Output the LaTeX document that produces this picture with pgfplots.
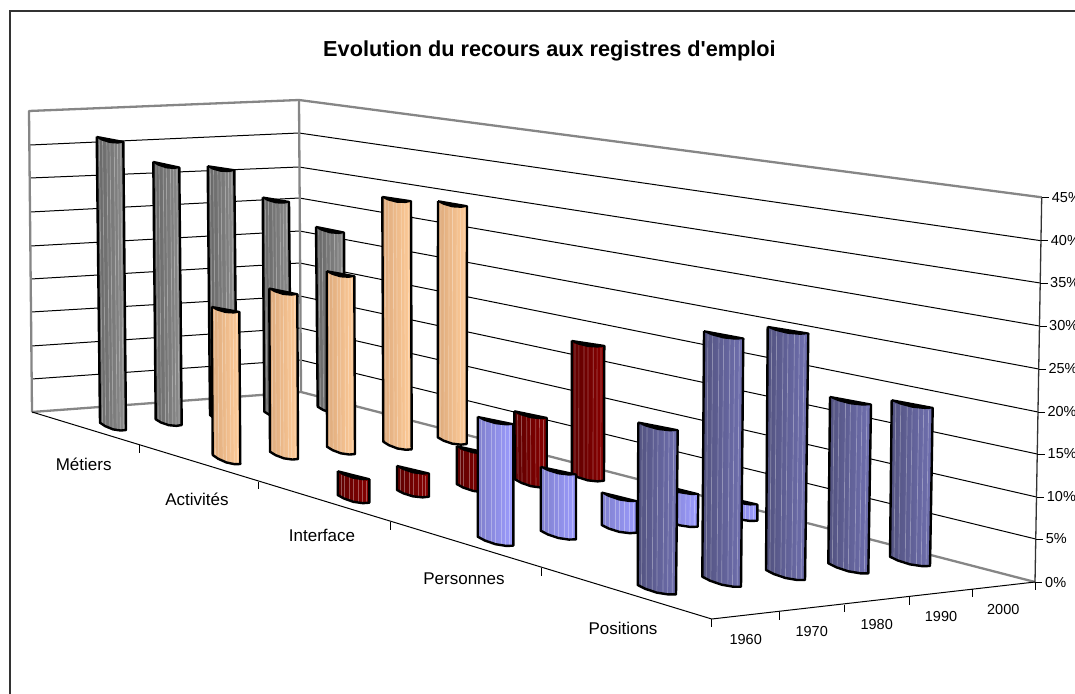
\documentclass[border=0pt]{standalone}
\usepackage{pgfplots}
\pgfplotsset{compat=1.18}
\usepackage{fontspec}
\setmainfont{Liberation Sans}
\newfontfamily\plainsans{Liberation Sans}
\definecolor{wall}{HTML}{868686}
\definecolor{grL}{HTML}{666666}\definecolor{grR}{HTML}{8C8C8C}
\definecolor{orL}{HTML}{DDAA7C}\definecolor{orR}{HTML}{FFCC99}
\definecolor{reL}{HTML}{5E0000}\definecolor{reR}{HTML}{880000}
\definecolor{lbL}{HTML}{8080CC}\definecolor{lbR}{HTML}{9C9CFF}
\definecolor{dbL}{HTML}{52527F}\definecolor{dbR}{HTML}{7070B0}
\tikzset{
 grb/.style={left color=grL,right color=grR},
 orb/.style={left color=orL,right color=orR},
 reb/.style={left color=reL,right color=reR},
 lbb/.style={left color=lbL,right color=lbR},
 dbb/.style={left color=dbL,right color=dbR},
 tk/.style={font=\fontsize{14.5}{16}\selectfont},
 ct/.style={font=\fontsize{17}{19}\selectfont},
 pc/.style={font=\fontsize{14.5}{16}\selectfont,anchor=west,inner sep=0pt},
}
% x1 y1 (top left) x2 y2 (top right) x3 y3 (bottom left) x4 y4 (bottom right) style
\newcommand{\onebar}[9]{%
 \def\xa{#1}\def\ya{#2}\def\xb{#3}\def\yb{#4}\def\xc{#5}\def\yc{#6}\def\xd{#7}\def\yd{#8}%
 \pgfmathsetmacro\ta{\xa+.2*(\xb-\xa)}\pgfmathsetmacro\tay{\ya+.2*(\yb-\ya)+2.0}%
 \pgfmathsetmacro\tb{\xa+.5*(\xb-\xa)}\pgfmathsetmacro\tby{\ya+.5*(\yb-\ya)+3.0}%
 \pgfmathsetmacro\tc{\xa+.8*(\xb-\xa)}\pgfmathsetmacro\tcy{\ya+.8*(\yb-\ya)+2.0}%
 \pgfmathsetmacro\ba{\xc+.2*(\xd-\xc)}\pgfmathsetmacro\bay{\yc+.2*(\yd-\yc)+2.0}%
 \pgfmathsetmacro\bb{\xc+.5*(\xd-\xc)}\pgfmathsetmacro\bby{\yc+.5*(\yd-\yc)+3.0}%
 \pgfmathsetmacro\bc{\xc+.8*(\xd-\xc)}\pgfmathsetmacro\bcy{\yc+.8*(\yd-\yc)+2.0}%
 \addplot[draw=none,#9] coordinates {(\xa,\ya) (\ta,\tay) (\tb,\tby) (\tc,\tcy) (\xb,\yb) (\xd,\yd) (\bc,\bcy) (\bb,\bby) (\ba,\bay) (\xc,\yc) (\xa,\ya)};
 \pgfplotsforeachungrouped \f in {.1,.22,.38,.5,.66,.78,.9}{%
  \pgfmathsetmacro\sx{\xa+\f*(\xb-\xa)}\pgfmathsetmacro\sy{\ya+\f*(\yb-\ya)+3}%
  \pgfmathsetmacro\ex{\xc+\f*(\xd-\xc)}\pgfmathsetmacro\ey{\yc+\f*(\yd-\yc)+2}%
  \addplot[draw=white,draw opacity=.32,line width=.7pt] coordinates {(\sx,\sy) (\ex,\ey)};
 }%
 \addplot[draw=black,line width=2.4pt,line join=round] coordinates {(\xb,\yb) (\xd,\yd) (\bc,\bcy) (\bb,\bby) (\ba,\bay) (\xc,\yc) (\xa,\ya)};
 \addplot[draw=black,fill=black,line width=1.8pt,line join=round] coordinates {(\xa,\ya) (\ta,\tay) (\tb,\tby) (\tc,\tcy) (\xb,\yb) (\xa,\ya)};
}
\begin{document}
\begin{tikzpicture}
\clip (0,0) rectangle (1075pt,693pt);
\begin{axis}[at={(0,0)},anchor=south west,width=1075pt,height=693pt,scale only axis,
 axis lines=none,xmin=0,xmax=1075,ymin=0,ymax=693,y dir=reverse,clip=false,no markers,
 every axis plot/.append style={forget plot}]
% chart frame
\addplot[draw=black!80,line width=1.4pt] coordinates {(10,700) (10,11) (1085,11)};
% gridlines: left wall, back corner, right side
\addplot[black,line width=1pt] coordinates {(30,145) (299,133) (1040.9,240.7)};
\addplot[black,line width=1pt] coordinates {(30,178) (299,167) (1040.2,283)};
\addplot[black,line width=1pt] coordinates {(30.3,212) (299.4,198) (1039.5,326)};
\addplot[black,line width=1pt] coordinates {(30.5,246) (299.6,231) (1038.8,369)};
\addplot[black,line width=1pt] coordinates {(30.8,279) (299.8,263) (1038,412)};
\addplot[black,line width=1pt] coordinates {(31,312) (300,296) (1037.2,454)};
\addplot[black,line width=1pt] coordinates {(31.3,346) (300.4,328) (1036.5,497)};
\addplot[black,line width=1pt] coordinates {(31.6,379) (300.7,360) (1035.7,539)};
% walls
\addplot[draw=wall,line width=2.3pt,line join=round] coordinates {(32,412) (29,111) (299,100) (1041.7,197.3)};
\addplot[draw=wall,line width=2.3pt] coordinates {(299,100) (301,392)};
\addplot[draw=wall,line width=2.3pt,line join=round] coordinates {(32,412) (301,392) (1035,582)};
% floor and axes
\addplot[black,line width=1pt] coordinates {(32,412) (711.7,619) (1035,582)};
\addplot[draw=black!80,line width=1.3pt] coordinates {(1041.7,197.3) (1035,582)};
% category ticks
\addplot[black,line width=.8pt] coordinates {(139,445) (139,453)};
\addplot[black,line width=.8pt] coordinates {(258,482) (258,489)};
\addplot[black,line width=.8pt] coordinates {(390.7,522) (390.7,530)};
\addplot[black,line width=.8pt] coordinates {(541.7,568) (541.7,576)};
\addplot[black,line width=.8pt] coordinates {(711.7,619) (711.7,627)};
% year ticks
\addplot[black,line width=.8pt] coordinates {(779,612) (779,619.5)};
\addplot[black,line width=.8pt] coordinates {(844,604.5) (844,612)};
\addplot[black,line width=.8pt] coordinates {(909,597) (909,604.5)};
\addplot[black,line width=.8pt] coordinates {(972.7,589) (972.7,597)};
\addplot[black,line width=.8pt] coordinates {(1035,582) (1035,590)};
% value ticks
\addplot[black,line width=.8pt] coordinates {(1041.7,197.3) (1049,197.3)};
\addplot[black,line width=.8pt] coordinates {(1040.9,240.7) (1048,240.7)};
\addplot[black,line width=.8pt] coordinates {(1040.2,283) (1047.5,283)};
\addplot[black,line width=.8pt] coordinates {(1039.5,326) (1047,326)};
\addplot[black,line width=.8pt] coordinates {(1038.8,369) (1046,369)};
\addplot[black,line width=.8pt] coordinates {(1038,412) (1045,412)};
\addplot[black,line width=.8pt] coordinates {(1037.2,454) (1045,454)};
\addplot[black,line width=.8pt] coordinates {(1036.5,497) (1044,497)};
\addplot[black,line width=.8pt] coordinates {(1035.7,539) (1043,539)};
\addplot[black,line width=.8pt] coordinates {(1035,582) (1042,582)};
% Metiers
\onebar{96.7}{136.7}{123.3}{141.7}{100}{422.7}{126}{430}{grb}
\onebar{153.3}{161.7}{179.3}{167.3}{155.7}{419.3}{181.7}{425}{grb}
\onebar{207.7}{166}{234.3}{170}{210}{415}{236.7}{423}{grb}
\onebar{262.7}{197.3}{289}{201.7}{264.3}{411.7}{291}{418}{grb}
\onebar{316}{226.7}{344}{232.3}{317.7}{406.7}{345}{413}{grb}
% Activites
\onebar{211.7}{306.7}{239.3}{311.7}{212.7}{455}{240.3}{464}{orb}
\onebar{269.3}{288.3}{297.3}{294}{270}{451.7}{298}{459}{orb}
\onebar{326.7}{271}{354.3}{276}{327}{446.7}{355}{454}{orb}
\onebar{382.3}{196.7}{411}{201}{383.3}{441.7}{411.7}{449.3}{orb}
\onebar{438}{201}{467}{206}{437.7}{437.3}{466.7}{444}{orb}
% Interface
\onebar{337.7}{471}{369.3}{479}{337.7}{495}{369.3}{502.7}{reb}
\onebar{397}{465.7}{429}{473.3}{397}{490}{429}{496.7}{reb}
\onebar{456.7}{446}{489}{453}{456.7}{484}{489}{491.7}{reb}
\onebar{514.3}{411}{546.7}{417.7}{515}{479.3}{546.7}{487}{reb}
\onebar{571.7}{340.7}{604.3}{345.7}{571.7}{474}{604}{480.7}{reb}
% Personnes
\onebar{477.7}{416.7}{513.3}{424}{477.7}{536.7}{513.3}{545.7}{lbb}
\onebar{540.7}{466.7}{576}{474.3}{540.7}{530.7}{576}{539.3}{lbb}
\onebar{601.7}{492.3}{636.7}{501}{601.7}{525}{636.7}{532.7}{lbb}
\onebar{662}{485}{698.3}{494}{662}{518}{697.7}{526.7}{lbb}
\onebar{721}{496}{757.3}{504.3}{721}{512}{757.3}{520.7}{lbb}
% Positions
\onebar{638.3}{422.3}{677.7}{430}{637.7}{585}{676}{594.3}{dbb}
\onebar{704}{331}{743.3}{338.3}{702.3}{576.7}{741}{586.7}{dbb}
\onebar{767.7}{326.7}{808.3}{333.3}{766}{570}{805}{580}{dbb}
\onebar{830}{396.7}{871}{404.3}{828.3}{563.3}{868.3}{573.3}{dbb}
\onebar{891.7}{400}{932.7}{407.7}{890}{556.7}{930}{566}{dbb}
% text
\node[font=\plainsans\bfseries\fontsize{21.7}{24}\selectfont] at (axis cs:549.5,50.5) {Evolution du recours aux registres d'emploi};
\node[ct] at (axis cs:83.7,464) {Métiers};
\node[ct] at (axis cs:197,499) {Activités};
\node[ct] at (axis cs:322,535) {Interface};
\node[ct] at (axis cs:464,579) {Personnes};
\node[ct] at (axis cs:623,628) {Positions};
\node[tk] at (axis cs:745.7,639) {1960};
\node[tk] at (axis cs:811.7,631) {1970};
\node[tk] at (axis cs:876.7,624) {1980};
\node[tk] at (axis cs:941,616.7) {1990};
\node[tk] at (axis cs:1003.3,609) {2000};
\node[pc] at (axis cs:1051.7,197.3) {45\%};
\node[pc] at (axis cs:1050.7,240.7) {40\%};
\node[pc] at (axis cs:1050,283) {35\%};
\node[pc] at (axis cs:1049,326) {30\%};
\node[pc] at (axis cs:1048.3,369) {25\%};
\node[pc] at (axis cs:1047.3,412) {20\%};
\node[pc] at (axis cs:1047.5,454) {15\%};
\node[pc] at (axis cs:1046.7,497) {10\%};
\node[pc] at (axis cs:1045.7,539) {5\%};
\node[pc] at (axis cs:1045,582) {0\%};
\end{axis}
\end{tikzpicture}
\end{document}
